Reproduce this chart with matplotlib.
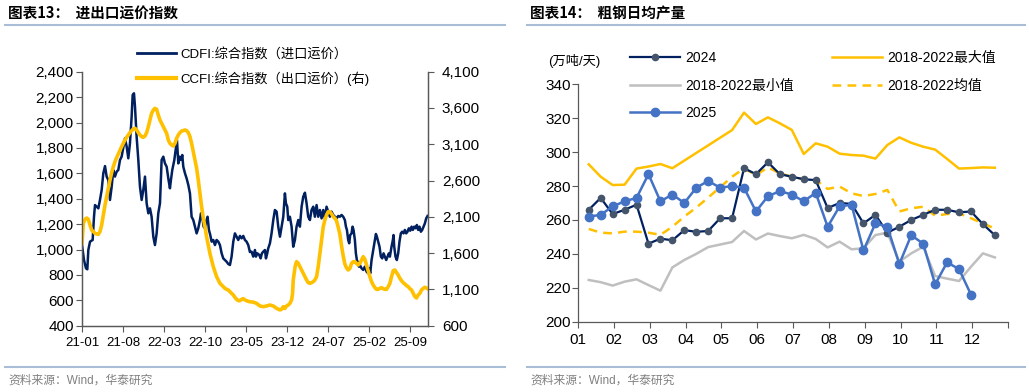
import matplotlib
matplotlib.use("Agg")
import matplotlib.pyplot as plt
from matplotlib.lines import Line2D
from matplotlib.ticker import FuncFormatter

plt.rcParams["font.family"] = ["Liberation Sans", "Noto Sans CJK SC"]
plt.rcParams["axes.unicode_minus"] = False

NAVY = "#002060"
YELLOW = "#FFC000"
BLUE = "#4472C4"
GRAY = "#BFBFBF"
MARK = "#44546A"
SPINE = "#595959"
RULE = "#A9BED6"

# ---- 图表13 数据（横轴：距 2021-01 的月数）----
x_tick_labels = ["21-01", "21-08", "22-03", "22-10", "23-05", "23-12", "24-07", "25-02", "25-09"]

cdfi_month = [
    0, 0.34, 0.68, 0.91, 1.08, 1.37, 1.82, 2.05, 2.22, 2.50, 2.79, 3.07, 3.36, 3.64, 3.93, 4.21, 4.50, 4.78,
    5.07, 5.35, 5.63, 5.92, 6.20, 6.49, 6.77, 7.06, 7.34, 7.63, 7.91, 8.19, 8.48, 8.65, 8.88, 9.05, 9.33, 9.62,
    9.90, 10.19, 10.47, 10.76, 11.04, 11.33, 11.61, 11.89, 12.18, 12.46, 12.75, 13.03, 13.32, 13.60, 13.89,
    14.17, 14.46, 14.74, 15.02, 15.19, 15.42, 15.77, 16.0, 16.22, 16.45, 16.68, 16.90, 17.13, 17.30, 17.59,
    17.87, 18.16, 18.44, 18.61, 18.72, 19.01, 19.29, 19.58, 19.86, 20.15, 20.32, 20.55, 20.77, 21.0, 21.28,
    21.45, 21.68, 21.91, 22.14, 22.42, 22.71, 22.99, 23.28, 23.56, 23.85, 24.13, 24.41, 24.70, 24.98, 25.27,
    25.55, 25.84, 26.12, 26.41, 26.69, 26.98, 27.26, 27.55, 27.83, 28.11, 28.40,
    28.68, 28.97, 29.25, 29.54, 29.71, 29.94, 30.28, 30.51, 30.73, 30.96, 31.25, 31.42, 31.64, 31.81, 32.10,
    32.38, 32.67, 32.95, 33.24, 33.52, 33.81, 34.09, 34.38, 34.66, 34.83, 35.06, 35.23, 35.51, 35.80, 36.08,
    36.37, 36.65, 36.94, 37.22, 37.51, 37.79, 38.08, 38.36, 38.64, 38.93, 39.21, 39.50, 39.78, 40.07, 40.35,
    40.64, 40.92, 41.21, 41.49, 41.77, 42.06, 42.34, 42.63, 42.91,
    43.20, 43.48, 43.77, 44.05, 44.34, 44.62, 44.90, 45.08, 45.25, 45.47, 45.64, 45.81, 46.04, 46.21, 46.38,
    46.61, 46.78, 46.95, 47.18, 47.29, 47.46, 47.75, 48.03, 48.32, 48.60, 48.89, 49.06, 49.23, 49.46, 49.74,
    50.03, 50.20, 50.37, 50.60, 50.82, 51.05, 51.28, 51.51, 51.73, 51.96, 52.19, 52.42, 52.59, 52.87, 53.10,
    53.21, 53.33, 53.55, 53.78, 54.01, 54.23, 54.46, 54.69, 54.92, 55.15, 55.37, 55.60, 55.83, 56.06, 56.29,
    56.51, 56.74, 56.97, 57.20, 57.42, 57.65, 57.88, 58.11, 58.34, 58.57, 58.79, 59.02,
]
cdfi_value = [
    1035, 917, 852, 844, 996, 1062, 1075, 1258, 1350, 1337, 1324, 1390, 1469, 1600, 1657, 1574, 1547, 1390,
    1495, 1626, 1574, 1613, 1626, 1705, 1731, 1804, 1875, 1810, 1718, 1836, 2046, 2216, 2230, 2125, 1888, 1705,
    1495, 1390, 1469, 1574, 1364, 1285, 1324, 1258, 1101, 1035, 1127, 1285, 1364, 1705, 1731,
    1678, 1652, 1560, 1482, 1547, 1626, 1705, 1783, 1862, 1678, 1731, 1705, 1744, 1652, 1600,
    1560, 1508, 1442, 1337, 1258, 1232, 1180, 1127, 1167, 1232, 1285, 1258, 1180, 1167, 1232,
    1258, 1154, 1114, 1062, 1075, 1035, 1075, 1062, 1035, 970, 930, 917, 904, 886, 878,
    944, 1062, 1127, 1101, 1075, 1107, 1088, 1107, 1075, 1062, 1035,
    980, 983, 944, 996, 944, 970, 957, 930, 970, 983, 996, 930, 970, 1009, 1049,
    1127, 1232, 1311, 1298, 1180, 1101, 1180, 1258, 1442, 1364, 1337, 1232, 1258, 1180, 1022,
    1075, 1180, 1232, 1180, 1337, 1416, 1447, 1364, 1258, 1232, 1311, 1337, 1258, 1350, 1258,
    1311, 1245, 1311, 1245, 1337, 1298, 1258, 1298, 1272,
    1258, 1245, 1264, 1258, 1272, 1258, 1232, 1180, 1154, 1075, 1049, 1114, 1127, 1180, 1154,
    1075, 970, 917, 891, 865, 878, 852, 839, 865, 826, 812, 852, 812, 917, 996,
    1075, 1122, 1101, 1062, 1022, 944, 930, 970, 944, 917, 944, 970, 944, 1022, 1075,
    1114, 1022, 944, 917, 970, 1062, 1127, 1140, 1127, 1154, 1127, 1140, 1167, 1148, 1180,
    1154, 1180, 1167, 1193, 1154, 1180, 1140, 1154, 1180, 1206, 1245, 1264,
]

ccfi_month = [
    0, 0.23, 0.51, 0.80, 1.08, 1.37, 1.65, 1.93, 2.22, 2.50, 2.79, 3.07, 3.36, 3.64, 3.93, 4.21, 4.50, 4.78,
    5.07, 5.35, 5.63, 5.92, 6.20, 6.49, 6.77, 7.06, 7.34, 7.63, 7.91, 8.19, 8.48, 8.76, 9.05, 9.33, 9.62,
    9.90, 10.19, 10.47, 10.76, 11.04, 11.33, 11.61, 11.89, 12.18, 12.46, 12.75, 13.03, 13.32, 13.60, 13.89,
    14.17, 14.46, 14.74, 15.02, 15.31, 15.59, 15.88, 16.16, 16.45, 16.73, 17.02, 17.30, 17.59, 17.87, 18.16,
    18.44, 18.72, 19.01, 19.29, 19.58, 19.86, 20.15, 20.43, 20.72, 21.0, 21.28, 21.57, 21.85, 22.14, 22.42,
    22.71, 22.99, 23.28, 23.56, 23.85, 24.13, 24.41, 24.70, 24.98, 25.27, 25.55, 25.84, 26.12, 26.41, 26.69,
    26.98, 27.26, 27.55, 27.83, 28.11, 28.40,
    28.68, 29.25, 29.82, 30.39, 30.96, 31.53, 32.10, 32.67, 33.24, 33.81, 34.09, 34.38, 34.66, 34.94, 35.23,
    35.51, 35.80, 35.97, 36.08, 36.25, 36.42, 36.65, 36.94, 37.22, 37.51, 37.79, 38.08, 38.36, 38.64, 38.93,
    39.21, 39.50, 39.78, 40.07, 40.35, 40.64, 40.92, 41.21, 41.49, 41.77, 42.06, 42.34, 42.63, 42.91,
    43.20, 43.48, 43.77, 44.05, 44.33, 44.62, 44.90, 45.19, 45.47, 45.76, 46.04, 46.33, 46.61, 46.90, 47.18,
    47.47, 47.75, 48.03, 48.32, 48.60, 48.89, 49.17, 49.46, 49.74, 50.03, 50.31, 50.60, 50.88, 51.16, 51.45,
    51.73, 52.02, 52.30, 52.59, 52.87, 53.16, 53.44, 53.72, 54.01, 54.29, 54.58, 54.86, 55.15, 55.43, 55.72,
    56.00, 56.29, 56.57, 56.86, 57.14, 57.42, 57.71, 57.99, 58.28, 58.56, 58.85, 59.02,
]
ccfi_value = [
    1735, 2011, 2066, 2084, 2066, 1988, 1919, 1896, 1873, 1864, 1859, 1896, 1988, 2126, 2263, 2378, 2493, 2608,
    2709, 2791, 2860, 2916, 2966, 3021, 3067, 3113, 3159, 3196, 3228, 3260, 3288, 3311, 3320, 3297, 3260,
    3228, 3205, 3196, 3214, 3260, 3343, 3434, 3526, 3572, 3595, 3581, 3503, 3434, 3389, 3343,
    3300, 3250, 3159, 3113, 3090, 3076, 3113, 3182, 3228, 3260, 3283, 3288, 3297, 3288, 3260,
    3205, 3113, 2998, 2883, 2769, 2608, 2424, 2240, 2080, 1965, 1827, 1712, 1597, 1505, 1414,
    1345, 1276, 1230, 1184, 1161, 1138, 1115, 1101, 1092, 1069, 1046, 1023, 991, 963, 945,
    945, 963, 973, 954, 945, 936,
    930, 925, 908, 872, 862, 872, 885, 872, 839, 817, 826, 862, 839, 872, 885,
    908, 954, 1046, 1230, 1322, 1423, 1482, 1459, 1414, 1368, 1322, 1276, 1230, 1193, 1184,
    1193, 1207, 1230, 1276, 1414, 1597, 1781, 1965, 2057, 2126, 2171, 2171, 2139, 2102,
    2080, 2045, 1955, 1860, 1700, 1560, 1450, 1395, 1368, 1391, 1459, 1482, 1482, 1459, 1437,
    1459, 1505, 1551, 1515, 1437, 1358, 1276, 1207, 1161, 1124, 1101, 1101, 1115, 1124, 1110,
    1101, 1101, 1138, 1184, 1276, 1358, 1368, 1331, 1299, 1253, 1221, 1193, 1175, 1152, 1138,
    1110, 1092, 1046, 1000, 982, 1023, 1046, 1092, 1115, 1129, 1120, 1110,
]

# ---- 图表14 数据（旬度，万吨/天）----
months = ["01", "02", "03", "04", "05", "06", "07", "08", "09", "10", "11", "12"]
dekad_day = [10, 20, 30]

steel_2024 = [266, 273, 263.5, 266, 269, 246, 249, 248, 254, 253, 253.5, 261, 261, 290.5, 287, 294, 287,
              285.5, 284, 283.5, 267, 270, 269.5, 258, 263, 252.5, 256, 260, 263, 266, 266, 264.5, 265,
              257.5, 251]
steel_2025 = [262, 263, 268, 271, 273, 287, 271, 275, 270, 279, 283, 279, 280, 279, 265, 274, 277, 275,
              271, 276, 256, 268, 269, 242, 258, 256, 234, 251, 246, 222, 235, 231, 216]
max_1822 = [292.8, 285.5, 280.6, 280.8, 290.3, 291.5, 293.0, 290.5, 295.0, 299.5, 304.0, 308.5, 313.0,
            323.3, 316.6, 320.5, 317.0, 313.1, 298.9, 305.2, 303.2, 299.1, 298.3, 297.9, 296.2, 304.2,
            308.7, 305.5, 303.2, 301.5, 296.0, 290.3, 290.6, 291.0, 290.8]
min_1822 = [224.6, 223.3, 221.3, 223.6, 225.0, 221.6, 218.3, 232.0, 236.4, 240.0, 244.0, 245.5, 247.0,
            253.5, 248.5, 252.0, 250.5, 249.2, 251.2, 248.8, 243.8, 247.2, 242.7, 243.3, 251.1, 252.5,
            235.4, 240.3, 244.2, 226.9, 225.4, 224.0, 232.4, 240.3, 237.9]
avg_1822 = [254.7, 252.5, 252.1, 253.1, 253.1, 252.5, 251.2, 256.0, 262.0, 267.3, 273.2, 279.3, 285.5,
            290.4, 286.5, 291.0, 287.5, 285.5, 284.0, 283.6, 278.3, 279.7, 275.7, 274.1, 275.3, 277.7,
            265.0, 266.9, 267.8, 262.5, 263.5, 263.9, 261.0, 258.0, 254.9]

W, H = 1029, 392


def fx(px):
    return px / W


def fy(py):
    return 1 - py / H


def style_ticks(ax, **kw):
    ax.tick_params(direction="out", length=4, width=0.8, color=SPINE, labelcolor="black", **kw)


fig = plt.figure(figsize=(W / 100, H / 100), dpi=100)

# 标题、分隔线、资料来源
for x0, x1, title in [(5, 505, "图表13：  进出口运价指数"), (527, 1025, "图表14：  粗钢日均产量")]:
    fig.text(fx(x0 + 3), fy(14), title, fontsize=10.5, fontweight="bold", va="center",
             family=["Noto Sans CJK SC"])
    fig.add_artist(Line2D([fx(x0), fx(x1)], [fy(25), fy(25)], color=RULE, lw=1.5))
    fig.add_artist(Line2D([fx(x0), fx(x1)], [fy(367), fy(367)], color=RULE, lw=1.5))
    fig.text(fx(x0 + 3), fy(381), "资料来源：Wind，华泰研究", fontsize=8.5, color="#808080", va="center")

# ── 左图：进出口运价指数 ──
ax = fig.add_axes([fx(82), fy(325.7), fx(428) - fx(82), (325.7 - 71.7) / H])
ax.plot(cdfi_month, cdfi_value, color=NAVY, lw=1.8)
ax.set_xlim(0, 59.1)
ax.set_ylim(400, 2400)
ax.set_yticks(range(400, 2401, 200))
ax.yaxis.set_major_formatter(FuncFormatter(lambda v, p: f"{v:,.0f}"))
ax.set_xticks(range(0, 57, 7))
ax.set_xticklabels(x_tick_labels, fontsize=9.5)
for lab in ax.get_yticklabels():
    lab.set_fontsize(11)
style_ticks(ax, axis="y", pad=2)
style_ticks(ax, axis="x", pad=4)

ax2 = ax.twinx()
ax2.plot(ccfi_month, ccfi_value, color=YELLOW, lw=2.6)
ax2.set_ylim(600, 4100)
ax2.set_yticks(range(600, 4101, 500))
ax2.yaxis.set_major_formatter(FuncFormatter(lambda v, p: f"{v:,.0f}"))
ax2.tick_params(axis="y", labelsize=11)
style_ticks(ax2, axis="y", pad=6)
for a in (ax, ax2):
    a.spines["top"].set_visible(False)
    for s in ("left", "right", "bottom"):
        a.spines[s].set_color(SPINE)
        a.spines[s].set_linewidth(0.9)

left_handles = [Line2D([], [], color=NAVY, lw=2), Line2D([], [], color=YELLOW, lw=3)]
fig.legend(left_handles, ["CDFI:综合指数（进口运价）", "CCFI:综合指数（出口运价）(右)"],
           loc="upper left", bbox_to_anchor=(fx(137), fy(48)), frameon=False, fontsize=9.5,
           borderpad=0, borderaxespad=0, handlelength=2.95, handletextpad=0.3, labelspacing=0.78)

# ── 右图：粗钢日均产量 ──
ax3 = fig.add_axes([fx(578), fy(321.7), fx(1008) - fx(578), (321.7 - 84.3) / H])
pos = [m + (d - 1) / 30 for m in range(12) for d in dekad_day]


def xs(vals):
    return pos[:len(vals)]


l_max, = ax3.plot(xs(max_1822), max_1822, color=YELLOW, lw=1.8)
l_min, = ax3.plot(xs(min_1822), min_1822, color=GRAY, lw=1.8)
l_avg, = ax3.plot(xs(avg_1822), avg_1822, color=YELLOW, lw=1.8, ls=(0, (3.5, 2.5)))
l_24, = ax3.plot(xs(steel_2024), steel_2024, color=NAVY, lw=1.6, marker="o", ms=4.5,
                 mfc=MARK, mec=MARK)
l_25, = ax3.plot(xs(steel_2025), steel_2025, color=BLUE, lw=1.8, marker="o", ms=6,
                 mfc=BLUE, mec=BLUE)
ax3.set_xlim(0, 12)
ax3.set_ylim(200, 340)
ax3.set_yticks(range(200, 341, 20))
ax3.set_xticks(range(13))
ax3.set_xticklabels(months + [""], fontsize=11)
ax3.tick_params(axis="y", labelsize=11)
style_ticks(ax3, axis="y", pad=1)
style_ticks(ax3, axis="x", pad=4)
for s in ("top", "right"):
    ax3.spines[s].set_visible(False)
for s in ("left", "bottom"):
    ax3.spines[s].set_color(SPINE)
    ax3.spines[s].set_linewidth(0.9)

fig.text(fx(548), fy(61), "(万吨/天)", fontsize=9.5, va="center")

leg_kw = dict(loc="upper left", frameon=False, fontsize=10, borderpad=0, borderaxespad=0,
              handlelength=3.6, handletextpad=0.4, labelspacing=0.98, numpoints=1)
fig.legend([l_24, l_min, l_25], ["2024", "2018-2022最小值", "2025"],
           bbox_to_anchor=(fx(630), fy(51)), **leg_kw)
fig.legend([l_max, l_avg], ["2018-2022最大值", "2018-2022均值"],
           bbox_to_anchor=(fx(832), fy(51)), **leg_kw)

fig.savefig("out.png", dpi=100)
